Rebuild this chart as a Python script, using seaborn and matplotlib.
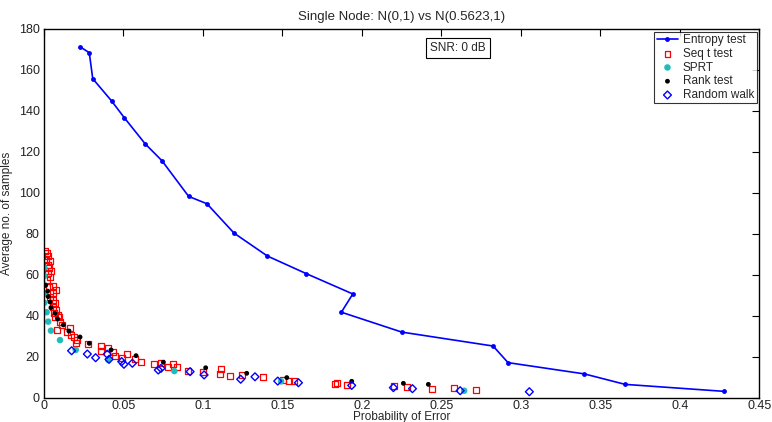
import numpy as np
import pandas as pd
import matplotlib
matplotlib.use('Agg')
import matplotlib.pyplot as plt
import seaborn as sns

# Entropy test curve
ent_pe = [0.0228, 0.0286, 0.0308, 0.0427, 0.0506, 0.0638, 0.0743, 0.0911, 0.1026, 0.1196,
          0.1406, 0.1651, 0.1943, 0.1871, 0.2251, 0.2825, 0.2919, 0.3399, 0.3655, 0.4276]
ent_n = [171.2, 168.3, 155.6, 144.7, 136.6, 123.8, 115.6, 98.2, 94.6, 80.3,
         69.1, 60.5, 50.6, 41.7, 32.0, 25.2, 17.1, 11.6, 6.5, 3.1]

# Seq t test
seqt_pe = [0.0008, 0.0018, 0.0025, 0.0014, 0.0039, 0.0025, 0.0033, 0.0045, 0.0025, 0.0039,
           0.0018, 0.0056, 0.0035, 0.0075, 0.0056, 0.0039, 0.0060, 0.0070, 0.0056, 0.0077,
           0.0064, 0.0091, 0.0097, 0.0070, 0.0102, 0.0081, 0.0116, 0.0144, 0.0165, 0.0171,
           0.0190, 0.0211, 0.0203, 0.0280, 0.0358, 0.0358, 0.0406, 0.0437, 0.0448, 0.0490,
           0.0521, 0.0574, 0.0611, 0.0695, 0.0737, 0.0779, 0.0814, 0.0836, 0.0909, 0.1003,
           0.1114, 0.1108, 0.1171, 0.1245, 0.1377, 0.1506, 0.1544, 0.1575, 0.1831, 0.1846,
           0.1905, 0.2203, 0.2282, 0.2440, 0.2582, 0.2718]
seqt_n = [71.7, 70.4, 69.1, 67.2, 66.8, 64.7, 63.1, 61.8, 60.7, 59.0,
          57.4, 54.5, 53.9, 52.5, 51.2, 49.3, 47.7, 46.0, 44.4, 42.8,
          41.5, 40.3, 39.2, 39.5, 37.1, 33.0, 35.5, 32.2, 33.9, 30.6,
          29.5, 28.1, 26.8, 26.2, 25.2, 22.8, 24.4, 22.4, 20.3, 19.4,
          21.3, 18.7, 17.6, 16.4, 16.8, 15.1, 16.4, 15.1, 13.2, 12.5,
          14.0, 11.4, 10.7, 11.2, 9.9, 8.5, 8.3, 8.0, 6.8, 7.3,
          6.2, 5.7, 5.4, 4.2, 4.6, 3.8]

# SPRT
sprt_pe = [0.0003, 0.0003, 0.0003, 0.0008, 0.0003, 0.0018, 0.0028, 0.0045, 0.0102, 0.0201,
           0.0406, 0.0821, 0.1492, 0.2643]
sprt_n = [63.4, 59.4, 55.0, 50.6, 46.3, 41.7, 37.1, 32.7, 28.1, 23.3,
          18.4, 13.0, 8.0, 3.4]

# Rank test
rank_pe = [0.0012, 0.0025, 0.0028, 0.0039, 0.0045, 0.0070, 0.0087, 0.0123, 0.0158, 0.0228,
           0.0286, 0.0423, 0.0580, 0.0752, 0.1018, 0.1276, 0.1528, 0.1936, 0.2261, 0.2418]
rank_n = [54.8, 52.0, 49.3, 46.7, 43.9, 41.2, 38.4, 35.5, 32.5, 29.6,
          26.5, 23.3, 20.5, 17.3, 14.6, 11.9, 9.8, 8.0, 7.0, 6.5]

# Random walk
rw_pe = [0.0175, 0.0274, 0.0326, 0.0399, 0.0410, 0.0490, 0.0504, 0.0557, 0.0720, 0.0737,
         0.0920, 0.1008, 0.1238, 0.1328, 0.1471, 0.1601, 0.1936, 0.2198, 0.2318, 0.2618,
         0.3053]
rw_n = [22.9, 21.3, 19.5, 21.2, 18.7, 17.6, 16.3, 16.8, 13.5, 14.3,
        12.7, 11.1, 9.0, 10.2, 8.1, 7.3, 6.0, 4.9, 4.4, 3.4,
        2.9]

sns.set_style('white')
plt.rcParams['font.family'] = ['Liberation Sans', 'DejaVu Sans']

fig = plt.figure(figsize=(7.72, 4.22), dpi=100)
ax = fig.add_axes([0.0567, 0.0576, 0.9271, 0.8744])

sns.lineplot(x=ent_pe, y=ent_n, sort=False, color='#0000ff', linewidth=1.2,
             marker='o', markersize=3.5, markeredgewidth=0, label='Entropy test', ax=ax)
sns.scatterplot(x=seqt_pe, y=seqt_n, marker='s', s=18, facecolor='none',
                edgecolor='#ff0000', linewidth=0.9, label='Seq t test', ax=ax)
sns.scatterplot(x=sprt_pe, y=sprt_n, marker='o', s=22, color='#22bbbb',
                edgecolor='none', label='SPRT', ax=ax)
sns.scatterplot(x=rank_pe, y=rank_n, marker='o', s=12, color='black',
                edgecolor='none', label='Rank test', ax=ax)
sns.scatterplot(x=rw_pe, y=rw_n, marker='D', s=16, facecolor='none',
                edgecolor='#0000ff', linewidth=1.0, label='Random walk', ax=ax)

ax.set_xlim(0, 0.45)
ax.set_ylim(0, 180)
ax.set_xticks(np.arange(0, 0.451, 0.05))
ax.set_xticklabels(['0', '0.05', '0.1', '0.15', '0.2', '0.25', '0.3', '0.35', '0.4', '0.45'])
ax.set_yticks(np.arange(0, 181, 20))
ax.tick_params(direction='in', length=5, width=0.8, top=True, right=True,
               labelsize=9, pad=3, colors='black', labelcolor='#222222')
ax.tick_params(axis='x', pad=2)
for sp in ax.spines.values():
    sp.set_color('black')
    sp.set_linewidth(1.0)

ax.set_title('Single Node: N(0,1) vs N(0.5623,1)', fontsize=9.5, pad=6)
ax.set_xlabel('Probability of Error', fontsize=8.5, labelpad=-1)
ax.set_ylabel('Average no. of samples', fontsize=8.5, labelpad=4)

ax.text(0.579, 0.948, 'SNR: 0 dB', transform=ax.transAxes, ha='center', va='center',
        fontsize=8.5, bbox=dict(boxstyle='square,pad=0.35', facecolor='white',
                                edgecolor='black', linewidth=0.8))

leg = ax.legend(loc='upper right', fontsize=8.5, frameon=True, fancybox=False,
                borderaxespad=0.25, borderpad=0.2, labelspacing=0.15,
                handlelength=1.8, handletextpad=0.4)
leg.get_frame().set_edgecolor('black')
leg.get_frame().set_linewidth(0.8)

fig.savefig('out.png', dpi=100)
